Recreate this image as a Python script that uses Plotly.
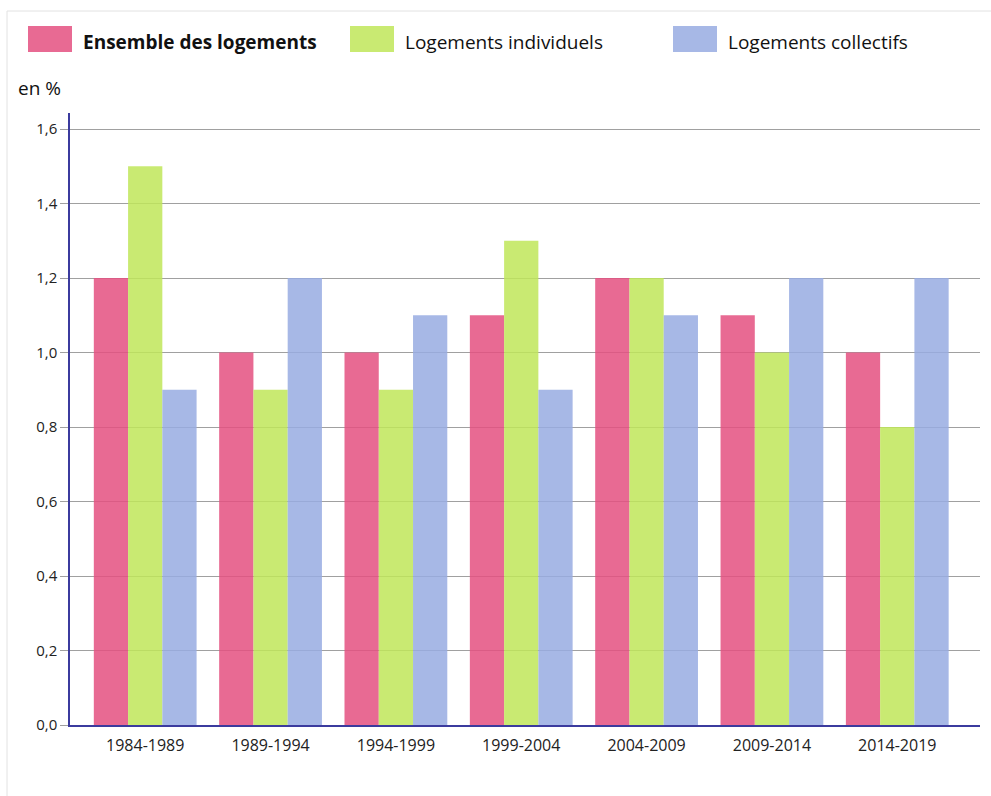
import plotly.graph_objects as go

categories = ["1984-1989", "1989-1994", "1994-1999", "1999-2004", "2004-2009", "2009-2014", "2014-2019"]
ensemble = [1.2, 1.0, 1.0, 1.1, 1.2, 1.1, 1.0]
individuels = [1.5, 0.9, 0.9, 1.3, 1.2, 1.0, 0.8]
collectifs = [0.9, 1.2, 1.1, 0.9, 1.1, 1.2, 1.2]
series_names = ["Ensemble des logements", "Logements individuels", "Logements collectifs"]
colors = ["rgba(228,80,128,0.85)", "rgba(191,230,89,0.85)", "rgba(152,172,226,0.85)"]
y_ticks = [0.0, 0.2, 0.4, 0.6, 0.8, 1.0, 1.2, 1.4, 1.6]

FONT = "Open Sans"
W, H = 991, 796
L, R, T, B = 70, 11, 113, 71
pw = W - L - R
ph = H - T - B

def px2x(px):
    return (px - L) / pw

def px2y(py):
    return (H - B - py) / ph

fig = go.Figure()
for name, vals, col in zip(series_names, [ensemble, individuels, collectifs], colors):
    fig.add_trace(go.Bar(x=categories, y=vals, name=name, marker=dict(color=col, line=dict(width=0)),
                         showlegend=False))

shapes = []
annotations = []
# frame
shapes.append(dict(type="line", xref="paper", yref="paper", x0=px2x(7), x1=px2x(7), y0=px2y(11), y1=px2y(800),
                   line=dict(color="#e2e2e2", width=1)))
shapes.append(dict(type="line", xref="paper", yref="paper", x0=px2x(7), x1=px2x(995), y0=px2y(11), y1=px2y(11),
                   line=dict(color="#e2e2e2", width=1)))
# legend
leg_x = [28, 350, 673]
for i, (name, col) in enumerate(zip(series_names, colors)):
    shapes.append(dict(type="rect", xref="paper", yref="paper", x0=px2x(leg_x[i]), x1=px2x(leg_x[i] + 44),
                       y0=px2y(52), y1=px2y(26), fillcolor=col, line=dict(width=0)))
    annotations.append(dict(xref="paper", yref="paper", x=px2x(leg_x[i] + 53), y=px2y(42), xanchor="left",
                            yanchor="middle", showarrow=False,
                            text=("<b>%s</b>" % name) if i == 0 else name,
                            font=dict(family=FONT, size=19, color="#111")))
annotations.append(dict(xref="paper", yref="paper", x=px2x(16), y=px2y(88), xanchor="left", yanchor="middle",
                        showarrow=False, text="en %", font=dict(family=FONT, size=19, color="#111")))

fig.update_layout(
    width=W, height=H,
    margin=dict(l=L, r=R, t=T, b=B, pad=0),
    paper_bgcolor="white", plot_bgcolor="white",
    barmode="group", bargap=0.18, bargroupgap=0,
    separators=",.",
    shapes=shapes, annotations=annotations,
    font=dict(family=FONT, color="#222"),
    xaxis=dict(range=[-0.6, 6.66], showgrid=False, showline=True, linecolor="#3b3b9e", linewidth=1.5,
               ticks="", tickfont=dict(size=16, color="#222"), ticklabelstandoff=5),
    yaxis=dict(range=[0, 1.6 * ph / 596], tickvals=y_ticks, tickformat=".1f", showgrid=True,
               gridcolor="#a0a0a0", gridwidth=1, showline=True, linecolor="#3b3b9e", linewidth=1.5,
               ticks="outside", ticklen=8, tickcolor="#a0a0a0", tickfont=dict(size=15, color="#222"),
               zeroline=False),
)
fig.write_html("out.html")
